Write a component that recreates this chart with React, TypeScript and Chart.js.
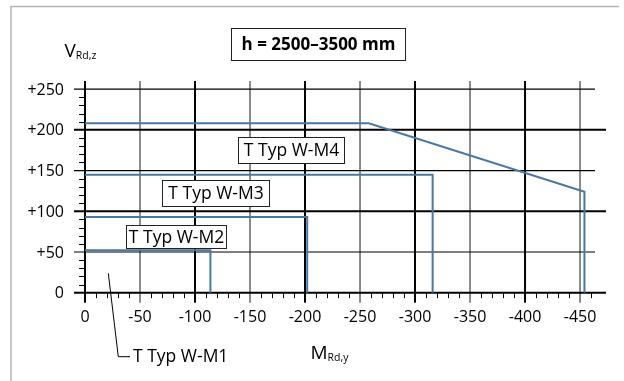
import { useEffect, useRef } from "react";
import { Chart, registerables } from "chart.js";

Chart.register(...registerables);

// ---- data ----
const xTicks = [0, -50, -100, -150, -200, -250, -300, -350, -400, -450];
const xTickLabels = ["0", "-50", "-100", "-150", "-200", "-250", "-300", "-350", "-400", "-450"];
const yTicks = [0, 50, 100, 150, 200, 250];
const yTickLabels = ["0", "+50", "+100", "+150", "+200", "+250"];
const seriesNames = ["T Typ W-M1", "T Typ W-M2", "T Typ W-M3", "T Typ W-M4"];
const m1X = [0, -114, -114];
const m1Y = [52, 52, 0];
const m2X = [0, -202, -202];
const m2Y = [93, 93, 0];
const m3X = [0, -316, -316];
const m3Y = [145, 145, 0];
const m4X = [0, -258, -454, -454];
const m4Y = [208, 208, 124, 0];
const titleText = "h = 2500–3500 mm";
const yAxisMain = "V";
const yAxisSub = "Rd,z";
const xAxisMain = "M";
const xAxisSub = "Rd,y";

const FONT = "'Open Sans', 'Noto Sans', sans-serif";
const LINE = "#4b77a3";

const toPts = (xs: number[], ys: number[]) => xs.map((x, i) => ({ x, y: ys[i] }));

const decorPlugin = {
  id: "decor",
  beforeDatasetsDraw(chart: any) {
    const ctx = chart.ctx;
    const xs = chart.scales.x;
    const ys = chart.scales.y;
    const ca = chart.chartArea;
    ctx.save();
    // frame
    ctx.strokeStyle = "#b4b4b4";
    ctx.lineWidth = 1.5;
    ctx.beginPath();
    ctx.moveTo(11, 381);
    ctx.lineTo(11, 6.5);
    ctx.lineTo(619, 6.5);
    ctx.stroke();

    // minor ticks
    ctx.strokeStyle = "#000";
    ctx.lineWidth = 1;
    for (let v = 10; v < 250; v += 10) {
      if (v % 50 === 0) continue;
      const y = Math.round(ys.getPixelForValue(v)) + 0.5;
      ctx.beginPath();
      ctx.moveTo(79, y);
      ctx.lineTo(ca.left, y);
      ctx.stroke();
    }
    for (let v = -10; v >= -460; v -= 10) {
      if (v % 50 === 0) continue;
      const x = Math.round(xs.getPixelForValue(v)) + 0.5;
      ctx.beginPath();
      ctx.moveTo(x, ca.bottom);
      ctx.lineTo(x, ca.bottom + 5.5);
      ctx.stroke();
    }

    // vertical grid
    xTicks.forEach((v) => {
      const x = xs.getPixelForValue(v);
      const major = v % 100 === 0;
      ctx.strokeStyle = major ? "#000" : "#6e6e6e";
      ctx.lineWidth = major ? 2 : 1.6;
      ctx.beginPath();
      ctx.moveTo(x, ca.top);
      ctx.lineTo(x, ca.bottom + 10);
      ctx.stroke();
    });
    // horizontal grid
    yTicks.forEach((v) => {
      const y = ys.getPixelForValue(v);
      const major = v % 100 === 0;
      ctx.strokeStyle = "#000";
      ctx.lineWidth = major ? 2 : 1.2;
      ctx.beginPath();
      ctx.moveTo(74, y);
      ctx.lineTo(major ? ca.right : ca.right - 11, y);
      ctx.stroke();
    });
    ctx.restore();
  },
  afterDraw(chart: any) {
    const ctx = chart.ctx;
    ctx.save();
    const box = (x1: number, y1: number, x2: number, y2: number, text: string, font: string) => {
      ctx.fillStyle = "#fff";
      ctx.fillRect(x1, y1, x2 - x1, y2 - y1);
      ctx.strokeStyle = "#222";
      ctx.lineWidth = 1;
      ctx.strokeRect(x1, y1, x2 - x1, y2 - y1);
      ctx.fillStyle = "#000";
      ctx.font = font;
      ctx.textAlign = "center";
      ctx.textBaseline = "middle";
      ctx.fillText(text, (x1 + x2) / 2, (y1 + y2) / 2 + 1);
    };
    box(231.5, 28.5, 405.5, 60.5, titleText, `bold 17px ${FONT}`);
    box(238.5, 137.5, 344.5, 163.5, seriesNames[3], `17.5px ${FONT}`);
    box(162.5, 180.5, 269.5, 206.5, seriesNames[2], `17.5px ${FONT}`);
    box(126.5, 225.5, 226.5, 248.5, seriesNames[1], `17.5px ${FONT}`);

    // M1 leader
    ctx.strokeStyle = "#000";
    ctx.lineWidth = 1;
    ctx.beginPath();
    ctx.moveTo(108.3, 273.3);
    ctx.lineTo(118.3, 356.7);
    ctx.lineTo(130, 356.7);
    ctx.stroke();
    ctx.fillStyle = "#000";
    ctx.font = `17.5px ${FONT}`;
    ctx.textAlign = "left";
    ctx.textBaseline = "alphabetic";
    ctx.fillText(seriesNames[0], 133, 361.5);

    // axis titles
    ctx.font = `19px ${FONT}`;
    ctx.fillText(yAxisMain, 64.5, 57);
    const vw = ctx.measureText(yAxisMain).width;
    ctx.font = `10.5px ${FONT}`;
    ctx.fillText(yAxisSub, 64.5 + vw, 58.5);

    ctx.font = `19px ${FONT}`;
    ctx.fillText(xAxisMain, 310.5, 359);
    const mw = ctx.measureText(xAxisMain).width;
    ctx.font = `10.5px ${FONT}`;
    ctx.fillText(xAxisSub, 310.5 + mw, 360.5);
    ctx.restore();
  },
};

export default function App() {
  const ref = useRef<HTMLCanvasElement | null>(null);
  useEffect(() => {
    if (!ref.current) return;
    const ds = (xs: number[], ys: number[], label: string) => ({
      label,
      data: toPts(xs, ys),
      showLine: true,
      borderColor: LINE,
      backgroundColor: LINE,
      borderWidth: 2,
      pointRadius: 0,
      tension: 0,
      fill: false,
      clip: false as any,
    });
    const chart = new Chart(ref.current, {
      type: "scatter",
      data: {
        datasets: [
          ds(m1X, m1Y, seriesNames[0]),
          ds(m2X, m2Y, seriesNames[1]),
          ds(m3X, m3Y, seriesNames[2]),
          ds(m4X, m4Y, seriesNames[3]),
        ],
      },
      options: {
        animation: false,
        responsive: false,
        devicePixelRatio: 1,
        layout: { padding: { top: 81, right: 18, left: 0, bottom: 0 } },
        plugins: { legend: { display: false }, tooltip: { enabled: false }, title: { display: false } },
        scales: {
          x: {
            type: "linear",
            min: -473.6,
            max: 0,
            reverse: true,
            afterBuildTicks: (s: any) => {
              s.ticks = xTicks.map((v) => ({ value: v }));
            },
            afterFit: (s: any) => {
              s.height = 88.3;
            },
            grid: { display: false, drawTicks: false },
            border: { display: false },
            ticks: {
              autoSkip: false,
              maxRotation: 0,
              padding: 15,
              color: "#000",
              font: { family: FONT, size: 16 },
              callback: (v: any) => xTickLabels[xTicks.indexOf(Number(v))] ?? "",
            },
          },
          y: {
            type: "linear",
            min: 0,
            max: 260,
            afterBuildTicks: (s: any) => {
              s.ticks = yTicks.map((v) => ({ value: v }));
            },
            afterFit: (s: any) => {
              s.width = 85;
            },
            grid: { display: false, drawTicks: false },
            border: { display: false },
            ticks: {
              autoSkip: false,
              padding: 21,
              labelOffset: 1,
              color: "#000",
              font: { family: FONT, size: 16 },
              callback: (v: any) => yTickLabels[yTicks.indexOf(Number(v))] ?? "",
            },
          },
        },
      } as any,
      plugins: [decorPlugin],
    });
    return () => chart.destroy();
  }, []);
  return (
    <div style={{ position: "fixed", left: 0, top: 0, width: 624, height: 381, background: "#fff" }}>
      <canvas ref={ref} width={624} height={381} style={{ display: "block" }} />
    </div>
  );
}
